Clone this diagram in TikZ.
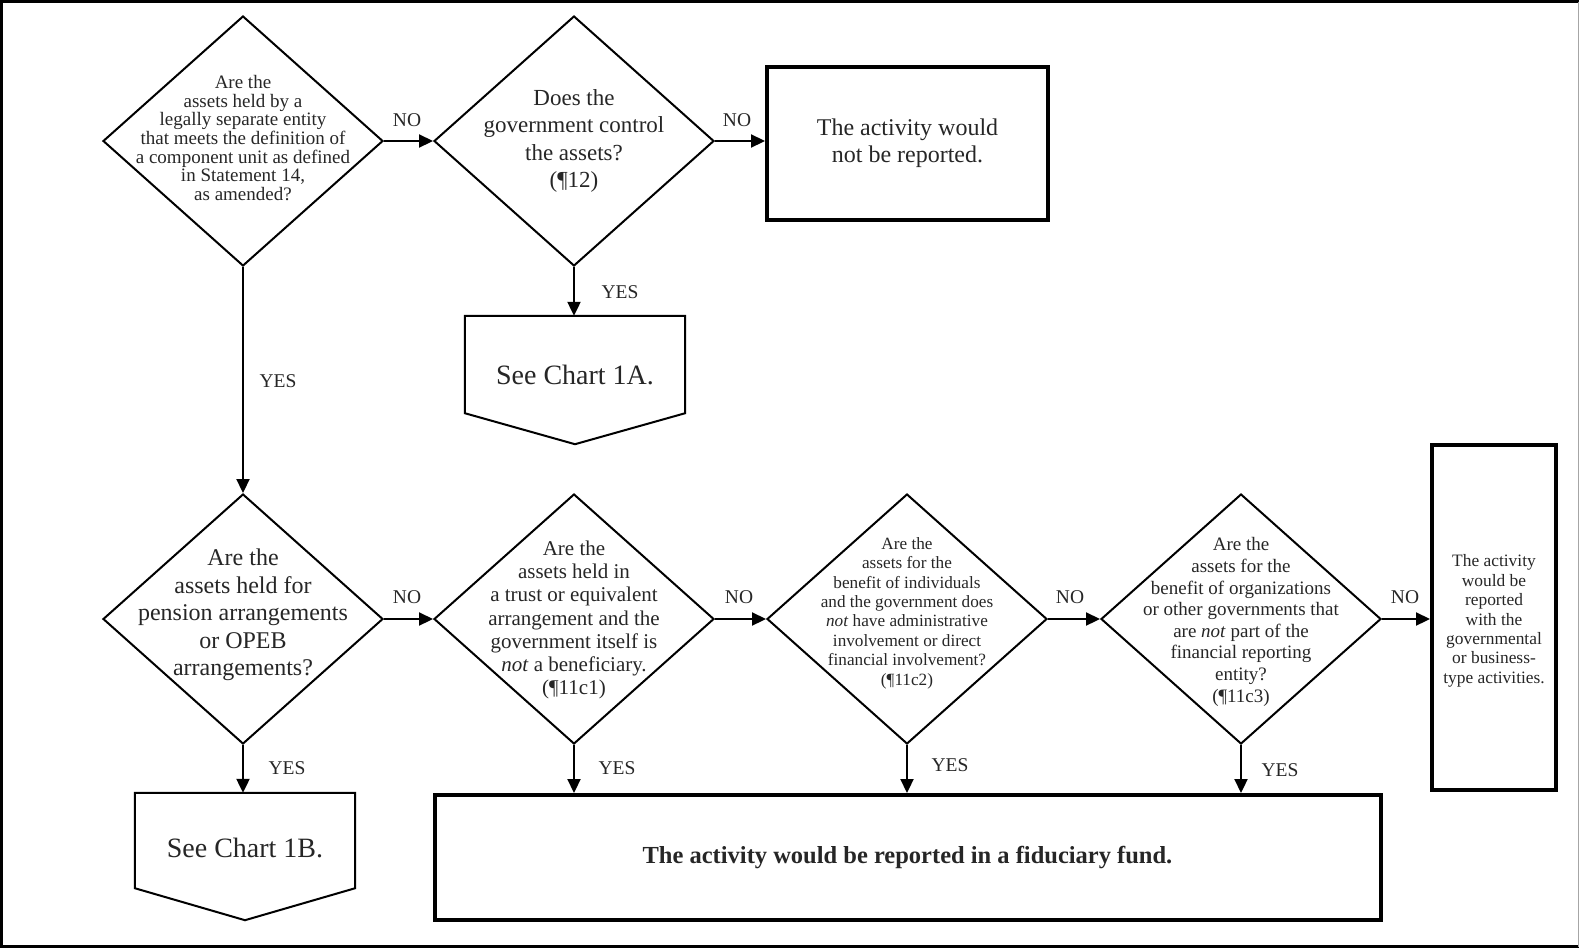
\documentclass[tikz,border=0pt]{standalone}
\usepackage{fontspec}
\setmainfont{Liberation Serif}
\usetikzlibrary{shapes.geometric,arrows.meta,calc}
\newcommand\myfs[2]{\fontsize{#1}{#2}\selectfont}
\begin{document}
\begin{tikzpicture}[x=1pt,y=-1pt,
  dia/.style={draw, shape=diamond, line width=2pt, minimum width=280pt, minimum height=250pt, inner sep=0pt},
  thickbox/.style={draw, rectangle, line width=4pt, inner sep=0pt},
  txt/.style={align=center, inner sep=0pt, text=black!85},
  arr/.style={line width=2.2pt, -{Triangle[length=14pt,width=13pt]}},
  lbl/.style={font=\myfs{19.5}{22}, inner sep=0pt, text=black!85},
  chartbox/.style={rectangle, inner sep=0pt, minimum width=220pt}
]
\useasboundingbox (0,0) rectangle (1580,948);
% outer frame
\draw[line width=3pt] (1578.5,1.5) -- (1.5,1.5) -- (1.5,946.5) -- (1578.5,946.5);
\draw[line width=1.5pt, gray!70] (1578.5,1.5) -- (1578.5,946.5);

% diamonds
\node[dia] (d1) at (243,141) {};
\node[dia] (d2) at (574,141) {};
\node[dia] (d3) at (243,619) {};
\node[dia] (d4) at (574,619) {};
\node[dia] (d5) at (907,619) {};
\node[dia] (d6) at (1241,619) {};

\node[txt, font=\myfs{19}{18.6}] (t1) at (243,138) {Are the\\assets held by a\\legally separate entity\\that meets the definition of\\a component unit as defined\\in Statement 14,\\as amended?};
\node[txt, font=\myfs{23}{27.5}] (t2) at (574,141) {Does the\\government control\\the assets?\\(¶12)};
\node[txt, font=\myfs{24}{27.5}] (t3) at (243,615) {Are the\\assets held for\\pension arrangements\\or OPEB\\arrangements?};
\node[txt, font=\myfs{21}{23.3}] (t4) at (574,620) {Are the\\assets held in\\a trust or equivalent\\arrangement and the\\government itself is\\\textit{not} a beneficiary.\\(¶11c1)};
\node[txt, font=\myfs{17.2}{19.4}] (t5) at (907,613) {Are the\\assets for the\\benefit of individuals\\and the government does\\\textit{not} have administrative\\involvement or direct\\financial involvement?\\(¶11c2)};
\node[txt, font=\myfs{19}{21.6}] (t6) at (1241,622) {Are the\\assets for the\\benefit of organizations\\or other governments that\\are \textit{not} part of the\\financial reporting\\entity?\\(¶11c3)};

% boxes
\node[thickbox, minimum width=281pt, minimum height=153pt] (nr) at (907.5,143.5) {};
\node[txt, font=\myfs{24}{27}] (tnr) at (907.5,143) {The activity would\\not be reported.};
\node[thickbox, minimum width=124pt, minimum height=345pt] (tall) at (1494,617.5) {};
\node[txt, font=\myfs{17.4}{19.4}] (ttall) at (1494,621) {The activity\\would be\\reported\\with the\\governmental\\or business-\\type activities.};
\node[thickbox, minimum width=946pt, minimum height=125pt] (fid) at (908,857.5) {};
\node[txt, font=\myfs{24.5}{28}\bfseries] (tfid) at (907.5,858) {The activity would be reported in a fiduciary fund.};

% off-page chart connectors
\node[chartbox, minimum height=97pt] (c1a) at (575,364.5) {};
\draw[line width=2pt] (c1a.north west) -- (c1a.north east) -- (c1a.south east) -- ($(c1a.south)+(0,31)$) -- (c1a.south west) -- cycle;
\node[txt, font=\myfs{28}{30}] (tc1a) at (575,375) {See Chart 1A.};
\node[chartbox, minimum height=95pt] (c1b) at (245,840.5) {};
\draw[line width=2pt] (c1b.north west) -- (c1b.north east) -- (c1b.south east) -- ($(c1b.south)+(0,32)$) -- (c1b.south west) -- cycle;
\node[txt, font=\myfs{28}{30}] (tc1b) at (245,848) {See Chart 1B.};

% connectors
\draw[arr] (d1.east) -- (d2.west);
\draw[arr] (d2.east) -- (d2.east -| nr.west);
\draw[arr] (d2.south) -- (d2.south |- c1a.north);
\draw[arr] (d1.south) -- (d3.north);
\draw[arr] (d3.south) -- (d3.south |- c1b.north);
\draw[arr] (d3.east) -- (d4.west);
\draw[arr] (d4.east) -- (d5.west);
\draw[arr] (d5.east) -- (d6.west);
\draw[arr] (d6.east) -- (d6.east -| tall.west);
\draw[arr] (d4.south) -- (d4.south |- fid.north);
\draw[arr] (d5.south) -- (d5.south |- fid.north);
\draw[arr] (d6.south) -- (d6.south |- fid.north);

% labels
\node[lbl] (n1) at (407,120) {NO};
\node[lbl] (n2) at (737,120) {NO};
\node[lbl] (n3) at (407,597) {NO};
\node[lbl] (n4) at (739,597) {NO};
\node[lbl] (n5) at (1070,597) {NO};
\node[lbl] (n6) at (1405,597) {NO};
\node[lbl] (y1) at (278,381) {YES};
\node[lbl] (y2) at (620,292) {YES};
\node[lbl] (y3) at (287,768) {YES};
\node[lbl] (y4) at (617,768) {YES};
\node[lbl] (y5) at (950,765) {YES};
\node[lbl] (y6) at (1280,770) {YES};
\end{tikzpicture}
\end{document}
